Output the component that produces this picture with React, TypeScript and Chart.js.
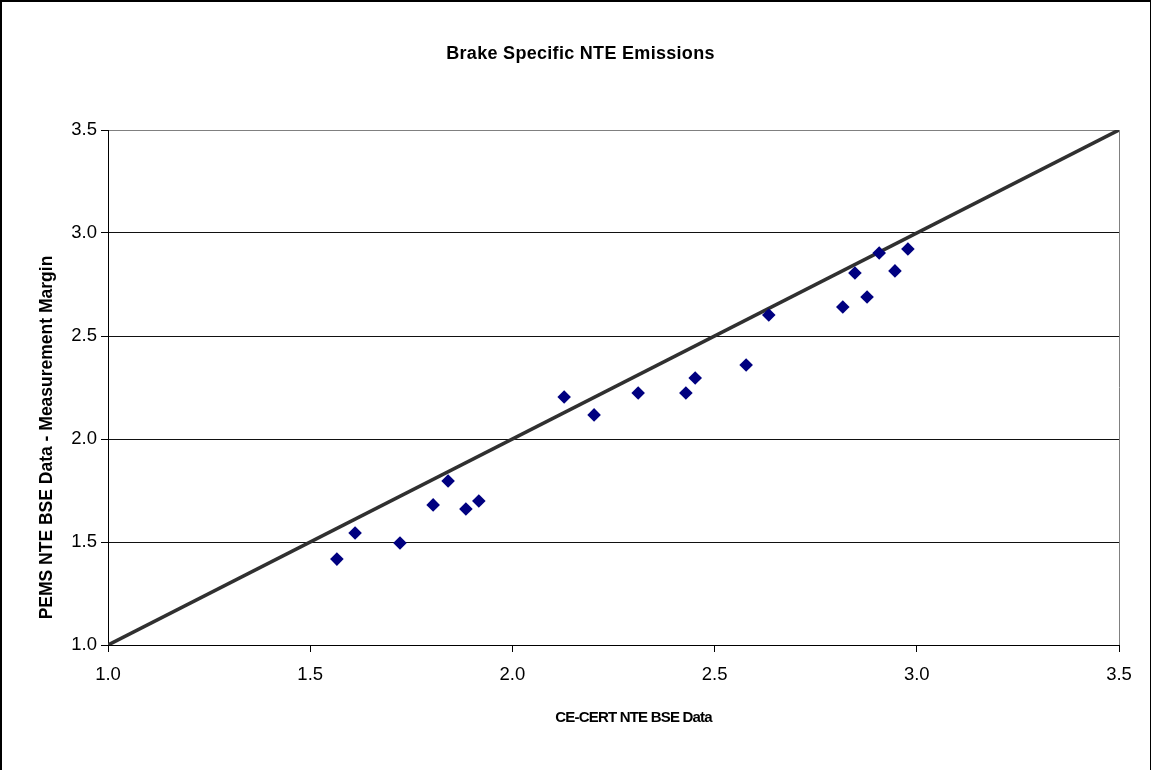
import React, { useEffect, useRef } from "react";
import { Chart, registerables } from "chart.js";

Chart.register(...registerables);

const chartTitle = "Brake Specific NTE Emissions";
const xAxisTitle = "CE-CERT NTE BSE Data";
const yAxisTitle = "PEMS NTE BSE Data - Measurement Margin";

const ceCertValues = [1.566, 1.611, 1.722, 1.804, 1.841, 1.885, 1.917, 2.128, 2.202, 2.311, 2.429, 2.452, 2.578, 2.634, 2.817, 2.847, 2.877, 2.907, 2.946, 2.978];
const pemsValues = [1.417, 1.544, 1.495, 1.68, 1.796, 1.66, 1.699, 2.204, 2.117, 2.223, 2.223, 2.296, 2.359, 2.602, 2.641, 2.806, 2.689, 2.903, 2.816, 2.922];
const parityLineX = [1.0, 3.5];
const parityLineY = [1.0, 3.5];
const axisMin = 1.0;
const axisMax = 3.5;
const axisStep = 0.5;

const FONT = '"Liberation Sans", Arial, sans-serif';

const decorPlugin = {
  id: "decor",
  beforeDraw(chart: any) {
    const { ctx, width, height } = chart;
    ctx.save();
    ctx.fillStyle = "#ffffff";
    ctx.fillRect(0, 0, width, height);
    ctx.restore();
  },
  afterDraw(chart: any) {
    const { ctx, chartArea, width, height } = chart;
    ctx.save();
    // outer frame
    ctx.fillStyle = "#000";
    ctx.fillRect(0, 0, width, 2);
    ctx.fillRect(0, 0, 2, height);
    ctx.fillRect(width - 1, 0, 1, height);

    ctx.fillStyle = "#000";
    ctx.textAlign = "center";
    ctx.textBaseline = "middle";
    // chart title
    ctx.font = `bold 18px ${FONT}`;
    (ctx as any).letterSpacing = "0.3px";
    ctx.fillText(chartTitle, width / 2 + 5, chartArea.top - 76);
    // x axis title
    ctx.font = `bold 15px ${FONT}`;
    (ctx as any).letterSpacing = "-0.8px";
    ctx.fillText(xAxisTitle, (chartArea.left + chartArea.right) / 2 + 20, chartArea.bottom + 73);
    // y axis title
    ctx.font = `bold 17.5px ${FONT}`;
    (ctx as any).letterSpacing = "0px";
    ctx.translate(47, (chartArea.top + chartArea.bottom) / 2 + 50);
    ctx.rotate(-Math.PI / 2);
    ctx.fillText(yAxisTitle, 0, 0);
    ctx.restore();
  },
};

export default function App() {
  const canvasRef = useRef<HTMLCanvasElement | null>(null);

  useEffect(() => {
    document.body.style.margin = "0";
    const canvas = canvasRef.current;
    if (!canvas) return;

    const scatterPoints = ceCertValues.map((x, i) => ({ x, y: pemsValues[i] }));
    const linePoints = parityLineX.map((x, i) => ({ x, y: parityLineY[i] }));

    const tickFont = { family: FONT, size: 18.5 };

    const chart = new Chart(canvas, {
      type: "scatter",
      data: {
        datasets: [
          {
            type: "line",
            label: "1:1",
            data: linePoints,
            borderColor: "#303030",
            borderWidth: 3.6,
            pointRadius: 0,
            fill: false,
            order: 2,
          } as any,
          {
            type: "scatter",
            label: "PEMS vs CE-CERT",
            data: scatterPoints,
            pointStyle: "rectRot",
            pointRadius: 6.8,
            pointBackgroundColor: "#000080",
            pointBorderColor: "#000080",
            pointBorderWidth: 0,
            order: 1,
          },
        ],
      },
      options: {
        animation: false,
        responsive: true,
        maintainAspectRatio: false,
        layout: { padding: { top: 130, left: 2, right: 32, bottom: 0 } },
        plugins: {
          legend: { display: false },
          tooltip: { enabled: false },
          title: { display: false },
        },
        scales: {
          x: {
            type: "linear",
            min: axisMin,
            max: axisMax,
            afterFit: (scale: any) => {
              scale.height = 125;
            },
            ticks: {
              stepSize: axisStep,
              color: "#000",
              font: tickFont,
              padding: 12,
              maxRotation: 0,
              callback: (v: any) => Number(v).toFixed(1),
            },
            grid: {
              color: (ctx: any) => (ctx.tick && ctx.tick.value === axisMax ? "#808080" : "rgba(0,0,0,0)"),
              tickColor: "#000",
              tickLength: 7,
              drawTicks: true,
              lineWidth: 1,
            },
            border: { display: true, color: "#000", width: 1 },
          },
          y: {
            type: "linear",
            min: axisMin,
            max: axisMax,
            afterFit: (scale: any) => {
              scale.width = 106;
            },
            ticks: {
              stepSize: axisStep,
              color: "#000",
              font: tickFont,
              padding: 4,
              callback: (v: any) => Number(v).toFixed(1),
            },
            grid: {
              color: (ctx: any) => (ctx.tick && ctx.tick.value === axisMax ? "#808080" : "#111"),
              tickColor: "#000",
              tickLength: 7,
              lineWidth: 1,
            },
            border: { display: true, color: "#000", width: 1 },
          },
        },
      },
      plugins: [decorPlugin],
    });

    return () => chart.destroy();
  }, []);

  return (
    <div style={{ width: 1151, height: 770, position: "relative" }}>
      <canvas ref={canvasRef} />
    </div>
  );
}
